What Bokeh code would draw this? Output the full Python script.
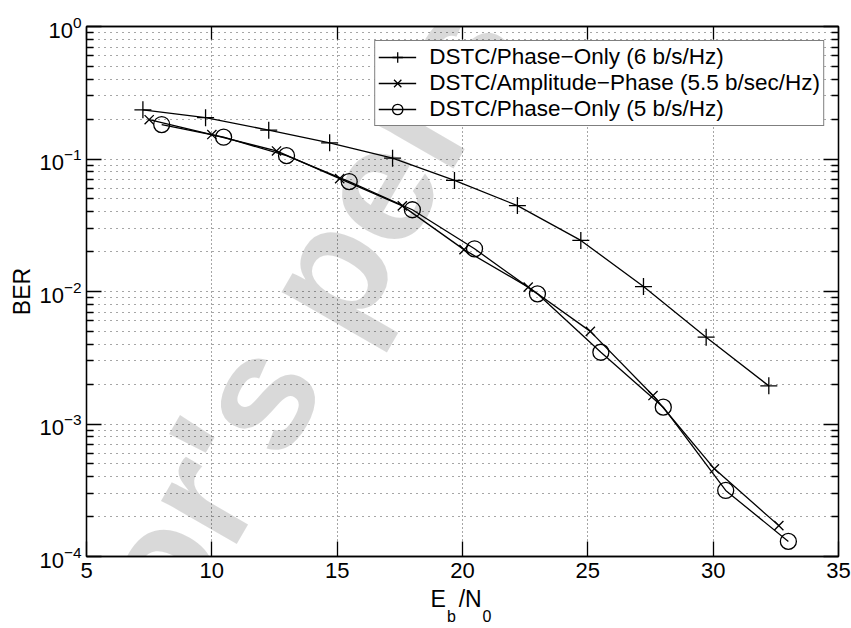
from bokeh.plotting import figure
from bokeh.models import (FixedTicker, LinearAxis, LogAxis, Label, Legend, LegendItem,
                          CustomJSTickFormatter)
from bokeh.embed import file_html
from bokeh.resources import INLINE

# ---- data ----
snr_6 = [7.25, 9.75, 12.27, 14.7, 17.21, 19.68, 22.19, 24.72, 27.22, 29.72, 32.22]
ber_6 = [0.235, 0.205, 0.165, 0.1325, 0.1015, 0.0689, 0.0445, 0.0243, 0.0109, 0.00452, 0.00194]

snr_55 = [7.5, 10.0, 12.58, 15.1, 17.6, 20.06, 22.62, 25.1, 27.6, 30.05, 32.62]
ber_55 = [0.198, 0.153, 0.115, 0.0711, 0.0443, 0.0207, 0.0108, 0.0050, 0.00164, 0.000459, 0.000171]

snr_5 = [8.0, 10.47, 12.98, 15.48, 18.0, 20.48, 22.99, 25.52, 28.01, 30.5, 33.0]
ber_5 = [0.182, 0.146, 0.106, 0.0676, 0.0414, 0.021, 0.0096, 0.00348, 0.00134, 0.000315, 0.00013]

labels = ["DSTC/Phase\u2212Only (6 b/s/Hz)",
          "DSTC/Amplitude\u2212Phase (5.5 b/sec/Hz)",
          "DSTC/Phase\u2212Only (5 b/s/Hz)"]

x_ticks = [5, 10, 15, 20, 25, 30, 35]
x_grid_ticks = [10, 15, 20, 25, 30]
y_ticks = [1e-4, 1e-3, 1e-2, 1e-1, 1e0]
y_minor = [m * d for d in [1e-4, 1e-3, 1e-2, 1e-1] for m in range(2, 10)]

NB = "\u00a0"
x_label_main = "E" + NB * 2 + "/N" + NB * 2          # E_b/N_0 : main line
x_label_subs = NB * 3 + "b" + NB * 6 + "0"           # E_b/N_0 : subscripts

FONT = "Liberation Sans"
LW = 1.3

p = figure(width=851, height=628, x_range=(5, 35), y_range=(1e-4, 1), y_axis_type="log",
           output_backend="svg", toolbar_location=None,
           min_border_left=86, min_border_right=13, min_border_top=26, min_border_bottom=72)
p.background_fill_color = "white"
p.border_fill_color = "white"
p.outline_line_color = "black"
p.outline_line_width = LW

# axes
xa = p.xaxis[0]
ya = p.yaxis[0]
xa.ticker = FixedTicker(ticks=x_ticks)
ya.ticker = FixedTicker(ticks=y_ticks, minor_ticks=y_minor)
for ax in (xa, ya):
    ax.axis_line_color = "black"
    ax.axis_line_width = LW
    ax.major_tick_line_color = "black"
    ax.major_tick_line_width = LW
    ax.minor_tick_line_color = "black"
    ax.minor_tick_line_width = LW
    ax.major_tick_in = 15
    ax.major_tick_out = 0
    ax.minor_tick_in = 7
    ax.minor_tick_out = 0
    ax.major_label_text_font = FONT
    ax.major_label_text_font_size = "22px"
    ax.major_label_text_color = "black"
    ax.axis_label_text_font = FONT
    ax.axis_label_text_font_style = "normal"
    ax.axis_label_text_color = "black"
    ax.axis_label_text_font_size = "23px"
xa.minor_tick_in = 0
xa.major_label_standoff = 6
xa.axis_label = x_label_main
xa.axis_label_standoff = 5
ya.major_label_standoff = 5
ya.axis_label = "BER"
ya.axis_label_standoff = 1

# second (invisible) bottom axis that only carries the subscripts of E_b/N_0
sub_axis = LinearAxis(ticker=FixedTicker(ticks=[]), formatter=CustomJSTickFormatter(code="return ''"),
                      axis_line_color=None, major_tick_line_color=None, minor_tick_line_color=None,
                      major_tick_in=0, major_tick_out=0, minor_tick_in=0, minor_tick_out=0,
                      major_label_standoff=0, major_label_text_font_size="1px",
                      axis_label=x_label_subs, axis_label_standoff=-7,
                      axis_label_text_font=FONT, axis_label_text_font_size="16px",
                      axis_label_text_font_style="normal", axis_label_text_color="black")
p.add_layout(sub_axis, "below")

blank = CustomJSTickFormatter(code="return ''")
top = LinearAxis(ticker=FixedTicker(ticks=x_ticks), formatter=blank,
                 major_tick_in=13, major_tick_out=0, minor_tick_in=0, minor_tick_out=0,
                 major_label_standoff=0, axis_line_width=LW, major_tick_line_width=LW)
p.add_layout(top, "above")
right = LogAxis(ticker=FixedTicker(ticks=y_ticks, minor_ticks=y_minor),
                formatter=CustomJSTickFormatter(code="return ''"),
                major_tick_in=15, major_tick_out=0, minor_tick_in=7, minor_tick_out=0,
                major_label_standoff=0, axis_line_width=LW, major_tick_line_width=LW,
                minor_tick_line_width=LW)
p.add_layout(right, "right")

# grids
p.xgrid.ticker = FixedTicker(ticks=x_grid_ticks)
p.xgrid.grid_line_color = "black"
p.xgrid.grid_line_alpha = 0.7
p.xgrid.grid_line_dash = "1 3"
p.ygrid.grid_line_color = "black"
p.ygrid.grid_line_alpha = 0.7
p.ygrid.grid_line_dash = "1 5"
p.ygrid.minor_grid_line_color = "black"
p.ygrid.minor_grid_line_alpha = 0.7
p.ygrid.minor_grid_line_dash = "1 5"

# series
l1 = p.line(snr_6, ber_6, line_color="black", line_width=LW)
m1 = p.scatter(snr_6, ber_6, marker="cross", size=17, line_color="black", line_width=LW)
l2 = p.line(snr_55, ber_55, line_color="black", line_width=LW)
m2 = p.scatter(snr_55, ber_55, marker="x", size=13, line_color="black", line_width=LW)
l3 = p.line(snr_5, ber_5, line_color="black", line_width=LW)
m3 = p.scatter(snr_5, ber_5, marker="circle", size=16, line_color="black", line_width=LW,
               fill_alpha=0)

legend = Legend(items=[LegendItem(label=labels[0], renderers=[l1, m1]),
                       LegendItem(label=labels[1], renderers=[l2, m2]),
                       LegendItem(label=labels[2], renderers=[l3, m3])],
                location="top_right", margin=14, padding=3, spacing=0,
                glyph_width=38, glyph_height=26, label_height=24, label_standoff=13,
                label_text_font=FONT, label_text_font_size="22.5px", label_text_color="black",
                border_line_color="black", border_line_width=1,
                background_fill_color="white", background_fill_alpha=1)
p.add_layout(legend)

# watermark: translucent black over everything (acts like the grey stamp)
wm = Label(x=17.6, y=0.132, text="Author's personal copy", angle=60, angle_units="deg",
           text_font=FONT, text_font_style="bold", text_font_size="165px",
           text_color="black", text_alpha=0.15, text_align="center", text_baseline="middle",
           level="overlay")
p.add_layout(wm)

open("out.html", "w").write(file_html(p, INLINE))
